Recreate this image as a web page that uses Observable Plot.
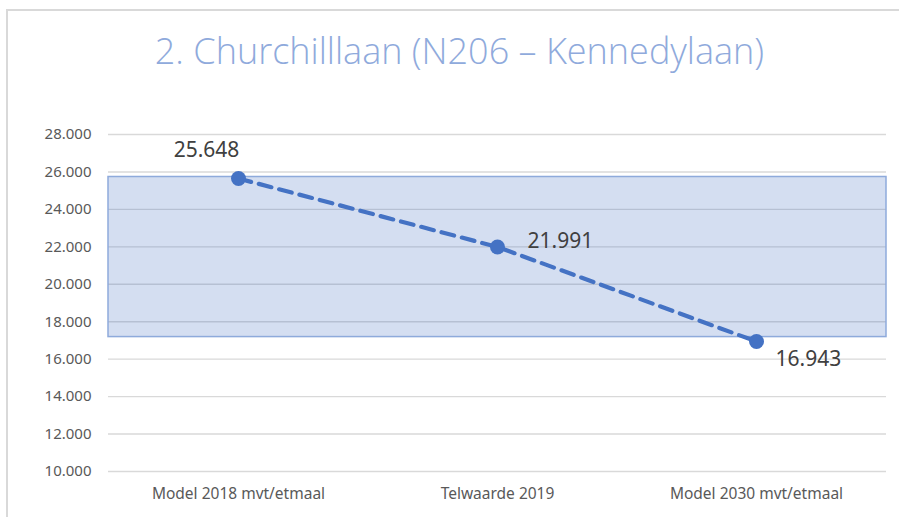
<!DOCTYPE html>
<html>
<head>
<meta charset="utf-8">
<script src="https://cdn.jsdelivr.net/npm/d3@7"></script>
<script src="https://cdn.jsdelivr.net/npm/@observablehq/plot@0.6"></script>
<style>
  html, body { margin: 0; padding: 0; background: #fff; }
  body { width: 899px; height: 517px; position: relative; overflow: hidden; font-family: "Noto Sans", sans-serif; }
  #frame { position: absolute; left: 6px; top: 9px; right: 0; bottom: 0; border-top: 2px solid #d9d9d9; border-left: 2px solid #d9d9d9; }
  #title { position: absolute; left: 0; width: 919px; top: 31px; text-align: center; font-family: "Open Sans", sans-serif; font-weight: 300; font-size: 36px; line-height: 40px; color: #8faadc; white-space: nowrap; }
  #chart { position: absolute; left: 0; top: 100px; }
</style>
</head>
<body>
<div id="frame"></div>
<div id="title">2. Churchilllaan (N206 – Kennedylaan)</div>
<div id="chart"></div>
<script>
const categories = ["Model 2018 mvt/etmaal", "Telwaarde 2019", "Model 2030 mvt/etmaal"];
const values = [25648, 21991, 16943];
const bandLow = 17180;
const bandHigh = 25730;
const yTicks = [10000, 12000, 14000, 16000, 18000, 20000, 22000, 24000, 26000, 28000];

const nl = d3.formatLocale({decimal: ",", thousands: ".", grouping: [3], currency: ["€", ""]});
const fmt = nl.format(",");

const data = categories.map((c, i) => ({cat: c, value: values[i]}));
const band = [{lo: bandLow, hi: bandHigh}];

const labelStyle = {fill: "#404040", fontSize: 21, fontFamily: "Noto Sans", text: d => fmt(d.value), x: "cat", y: "value"};

const chart = Plot.plot({
  width: 899,
  height: 417,
  marginTop: 34,
  marginBottom: 46,
  marginLeft: 108,
  marginRight: 13,
  style: {fontFamily: "Noto Sans", background: "transparent", overflow: "visible"},
  x: {type: "point", domain: categories, padding: 0.5, label: null},
  y: {domain: [10000, 28000], label: null},
  marks: [
    Plot.ruleY(yTicks, {stroke: "#d9d9d9", strokeWidth: 1.4}),
    Plot.rect(band, {y1: "lo", y2: "hi", fill: "#4472c4", fillOpacity: 0.23, stroke: "#8eaadb", strokeWidth: 1.5}),
    Plot.axisY({ticks: yTicks, tickFormat: fmt, tickSize: 0, tickPadding: 17, fontSize: 15, color: "#595959", label: null}),
    Plot.axisX({tickSize: 0, tickPadding: 16, fontSize: 15.5, color: "#595959", label: null}),
    Plot.line(data, {x: "cat", y: "value", stroke: "#4472c4", strokeWidth: 4.2, strokeDasharray: "13,8"}),
    Plot.dot(data, {x: "cat", y: "value", r: 7.5, fill: "#4472c4", stroke: "none"}),
    Plot.text(data.filter((d, i) => i === 0), {...labelStyle, dx: -32, dy: -28, textAnchor: "middle"}),
    Plot.text(data.filter((d, i) => i === 1), {...labelStyle, dx: 30, dy: -6, textAnchor: "start"}),
    Plot.text(data.filter((d, i) => i === 2), {...labelStyle, dx: 19, dy: 18, textAnchor: "start"})
  ]
});
document.getElementById("chart").appendChild(chart);
</script>
</body>
</html>
